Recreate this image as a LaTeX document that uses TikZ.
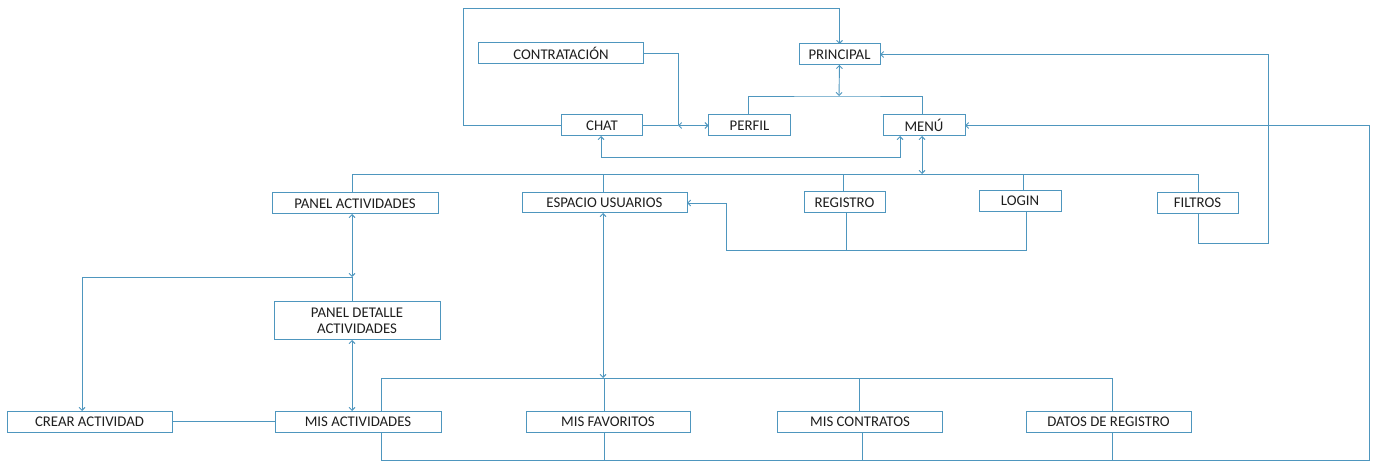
\documentclass[tikz,border=0pt]{standalone}
\usepackage{fontspec}
\setmainfont{Carlito}
\usetikzlibrary{arrows.meta}
\definecolor{ln}{RGB}{78,150,190}
\definecolor{tx}{RGB}{30,30,30}
\begin{document}
\begin{tikzpicture}[x=1pt,y=-1pt,
  box/.style={draw=ln,line width=1pt,rectangle,inner sep=0pt,outer sep=0pt,
    minimum height=21pt,text=tx,font=\fontsize{14.8}{16.5}\selectfont,align=center},
  conn/.style={draw=ln,line width=0.9pt},
  arr/.style={conn,-{Straight Barb[length=3pt,width=6pt]}},
  darr/.style={conn,{Straight Barb[length=3pt,width=6pt]}-{Straight Barb[length=3pt,width=6pt]}}]
\useasboundingbox (0,0) rectangle (1379,462);
% nodes
\node[box,minimum width=165pt] (contr) at (561,53.5) {CONTRATACIÓN};
\node[box,minimum width=81pt] (princ) at (839.5,54.5) {PRINCIPAL};
\node[box,minimum width=81pt] (chat) at (602,125.5) {CHAT};
\node[box,minimum width=82pt] (perfil) at (749.5,125.5) {PERFIL};
\node[box,minimum width=82pt] (menu) at (924,125.5) {MENÚ};
\node[box,minimum width=166pt] (pact) at (355,203.5) {PANEL ACTIVIDADES};
\node[box,minimum width=165pt,minimum height=20pt] (esp) at (604.5,203) {ESPACIO USUARIOS};
\node[box,minimum width=81pt] (reg) at (844.5,202.5) {REGISTRO};
\node[box,minimum width=82pt] (login) at (1020,201) {LOGIN};
\node[box,minimum width=81pt] (filt) at (1197.5,203) {FILTROS};
\node[box,minimum width=166pt,minimum height=38pt] (pdet) at (357,321) {PANEL DETALLE\\ACTIVIDADES};
\node[box,minimum width=165pt] (crear) at (89.5,421.5) {CREAR ACTIVIDAD};
\node[box,minimum width=166pt] (misact) at (358,421.5) {MIS ACTIVIDADES};
\node[box,minimum width=164pt] (fav) at (608,421.5) {MIS FAVORITOS};
\node[box,minimum width=165pt] (mcon) at (860,421.5) {MIS CONTRATOS};
\node[box,minimum width=165pt] (datos) at (1108.5,421.5) {DATOS DE REGISTRO};
% coordinates
\coordinate (j1) at (678,125.5);
\coordinate (j2) at (839,96);
\coordinate (j3) at (922,174);
\coordinate (busL) at (352,174);
\coordinate (busR) at (1198,174);
\coordinate (j4) at (352,277);
\coordinate (j5) at (603,378);
\coordinate (tbL) at (381,378);
\coordinate (tbR) at (1112,378);
\coordinate (bbL) at (381,460);
\coordinate (bbR) at (1369,460);
% top loop chat -> principal
\draw[arr] (chat.west) -| (463,8) -| (princ.north);
% contratacion / chat / perfil
\draw[conn] (contr.east) -| (j1);
\draw[conn] (chat.east) -- (j1);
\draw[darr] (j1) -- (perfil.west);
% principal to perfil/menu
\draw[darr] (princ.south) -- (j2);
\draw[conn] ([xshift=-1.5pt]perfil.north) |- (j2) -| ([xshift=-2pt]menu.north);
% chat <-> menu
\draw[darr] ([xshift=-1pt]chat.south) -- ++(0,21) -| ([xshift=-24pt]menu.south);
% menu <-> bus
\draw[darr] ([xshift=-2pt]menu.south) -- (j3);
\draw[conn] ([xshift=-3pt]pact.north) -- (busL) -- (busR) -- ([xshift=0.5pt]filt.north);
\draw[conn] ([xshift=-1.5pt]esp.north) -- ([xshift=-1.5pt]esp.north |- busL);
\draw[conn] ([xshift=-1.5pt]reg.north) -- ([xshift=-1.5pt]reg.north |- busL);
\draw[conn] ([xshift=3pt]login.north) -- ([xshift=3pt]login.north |- busL);
% filtros -> principal
\draw[arr] ([xshift=0.5pt]filt.south) |- (1268,243) |- (princ.east);
% registro / login -> espacio
\draw[arr] ([xshift=6pt]login.south) |- (726,250) |- (esp.east);
\draw[conn] ([xshift=1.5pt]reg.south) -- ([xshift=1.5pt]reg.south |- 0,250);
% panel actividades
\draw[darr] ([xshift=-3pt]pact.south) -- (j4);
\draw[conn] (j4) -- ([xshift=-5pt]pdet.north);
\draw[arr] (j4) -| ([xshift=-7.5pt]crear.north);
\draw[darr] ([xshift=-5pt]pdet.south) -- ([xshift=-6pt]misact.north);
\draw[conn] (crear.east) -- (misact.west);
% espacio <-> top bus
\draw[darr] ([xshift=-1.5pt]esp.south) -- (j5);
% top bus
\draw[conn] ([xshift=23pt]misact.north) |- (tbR) -- ([xshift=3.5pt]datos.north);
\draw[conn] ([xshift=-4pt]fav.north) -- ([xshift=-4pt]fav.north |- tbL);
\draw[conn] ([xshift=-1pt]mcon.north) -- ([xshift=-1pt]mcon.north |- tbL);
% bottom bus -> menu
\draw[arr] ([xshift=23pt]misact.south) |- (bbR) |- (menu.east);
\draw[conn] ([xshift=-4pt]fav.south) -- ([xshift=-4pt]fav.south |- bbL);
\draw[conn] ([xshift=2pt]mcon.south) -- ([xshift=2pt]mcon.south |- bbL);
\draw[conn] ([xshift=3.5pt]datos.south) -- ([xshift=3.5pt]datos.south |- bbL);
\end{tikzpicture}
\end{document}
